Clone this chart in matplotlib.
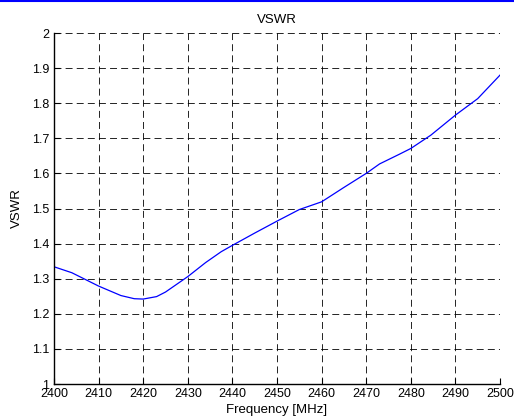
import matplotlib.pyplot as plt
from matplotlib.lines import Line2D


FREQ = [2400, 2404, 2410, 2415, 2418, 2420, 2423, 2425, 2430, 2434,
        2437.5, 2440, 2445, 2450, 2455, 2460, 2465, 2470, 2473, 2477.5,
        2480, 2484.5, 2490, 2495, 2500]
VSWR = [1.334, 1.317, 1.279, 1.252, 1.243, 1.242, 1.249, 1.262, 1.306, 1.346,
        1.377, 1.395, 1.430, 1.464, 1.497, 1.519, 1.560, 1.600, 1.627, 1.655,
        1.671, 1.709, 1.766, 1.813, 1.880]

X_TICKS = list(range(2400, 2501, 10))
Y_TICKS = [1, 1.1, 1.2, 1.3, 1.4, 1.5, 1.6, 1.7, 1.8, 1.9, 2]
Y_LABELS = ['1', '1.1', '1.2', '1.3', '1.4', '1.5', '1.6', '1.7', '1.8', '1.9', '2']


def main():
    plt.rcParams['font.family'] = ['Liberation Sans', 'DejaVu Sans']
    plt.rcParams['font.size'] = 9
    plt.rcParams['lines.scale_dashes'] = False

    fig = plt.figure(figsize=(5.14, 4.19), dpi=100)
    ax = fig.add_axes([54 / 514, 35 / 419, 446 / 514, 351 / 419])

    ax.plot(FREQ, VSWR, color='#0000ff', linewidth=0.9)

    ax.set_xlim(2400, 2500)
    ax.set_ylim(1, 2)
    ax.set_xticks(X_TICKS)
    ax.set_yticks(Y_TICKS)
    ax.set_yticklabels(Y_LABELS)
    ax.tick_params(direction='in', length=4, width=0.8, colors='black',
                   labelsize=9)
    ax.tick_params(axis='x', pad=3)
    ax.tick_params(axis='y', pad=3.5)
    ax.grid(True, color='black', linewidth=0.6, linestyle=(0, (5, 3)))

    ax.spines['top'].set_visible(False)
    ax.spines['right'].set_visible(False)
    ax.spines['left'].set_linewidth(1.0)
    ax.spines['bottom'].set_linewidth(1.0)

    ax.set_title('VSWR', fontsize=9.5, pad=7)
    ax.set_xlabel('Frequency [MHz]', fontsize=9.5, labelpad=3)
    ax.set_ylabel('VSWR', fontsize=9.5, labelpad=6)

    fig.add_artist(Line2D([0, 1], [0.998, 0.998], transform=fig.transFigure,
                          color='#0000ff', linewidth=1.5))

    fig.savefig('out.png', dpi=100)


if __name__ == '__main__':
    main()
